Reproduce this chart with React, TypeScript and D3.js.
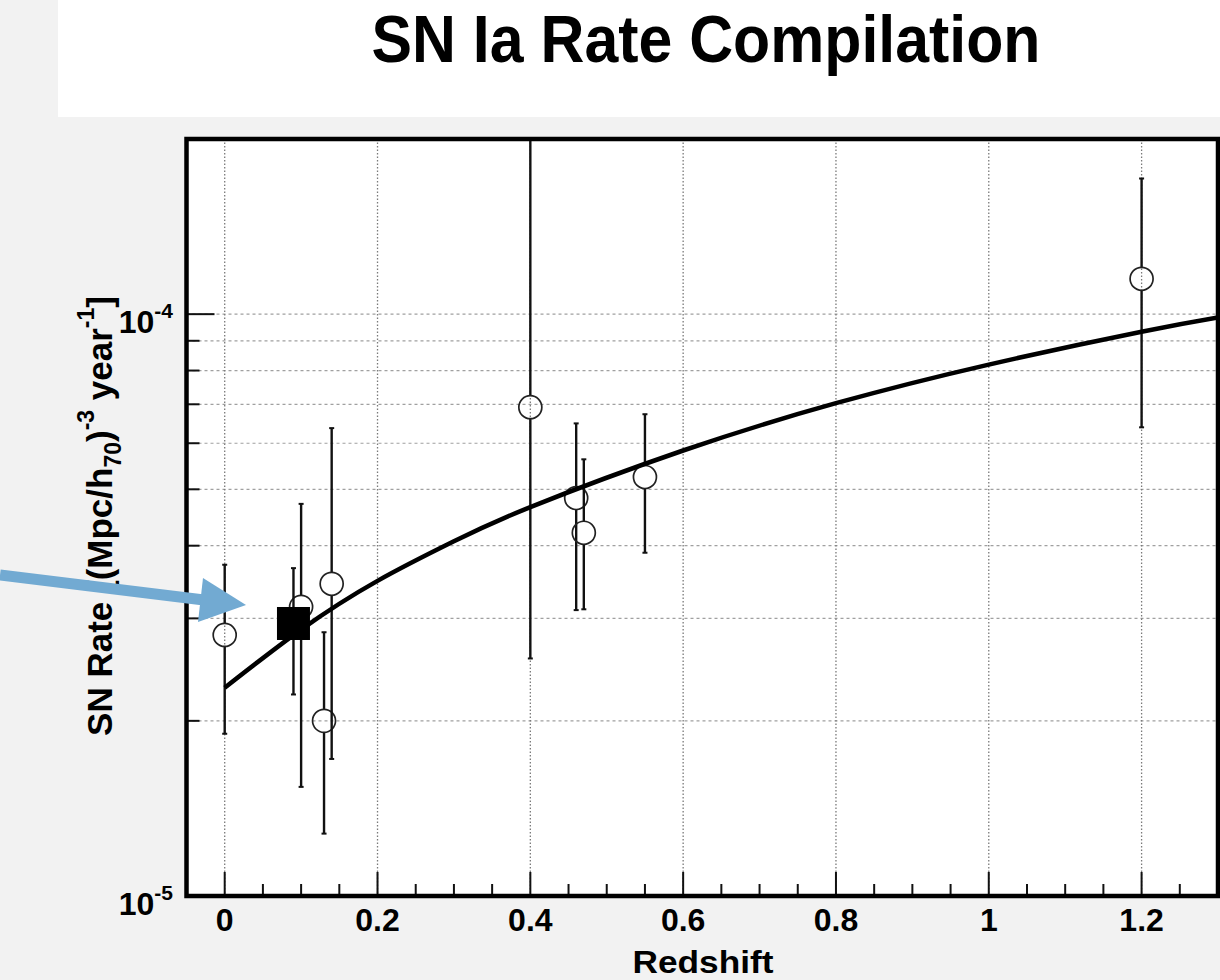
import React from 'react';
import * as d3 from 'd3';

const W = 1220;
const H = 980;

// Data points (open circles) – redshift, rate, upper and lower error ends
const pointZ = [0, 0.1, 0.13, 0.14, 0.4, 0.46, 0.47, 0.55, 1.2];
const pointRate = [2.81e-5, 3.14e-5, 2.0e-5, 3.44e-5, 6.92e-5, 4.83e-5, 4.21e-5, 5.25e-5, 1.15e-4];
const pointHigh = [3.71e-5, 4.72e-5, 2.84e-5, 6.37e-5, 3.0e-4, 6.49e-5, 5.63e-5, 6.73e-5, 1.71e-4];
const pointLow = [1.9e-5, 1.54e-5, 1.28e-5, 1.72e-5, 2.56e-5, 3.1e-5, 3.11e-5, 3.89e-5, 6.39e-5];

// Highlighted measurement (filled square)
const squareZ = [0.09];
const squareRate = [2.94e-5];
const squareHigh = [3.66e-5];
const squareLow = [2.22e-5];

// Model curve
const curveZ = [0, 0.1, 0.2, 0.3, 0.4, 0.6, 0.8, 1.0, 1.2, 1.3];
const curveRate = [2.28e-5, 2.87e-5, 3.48e-5, 4.07e-5, 4.66e-5, 5.83e-5, 7.03e-5, 8.19e-5, 9.33e-5, 9.87e-5];

// Axes
const xDomain = [-0.05, 1.3];
const yDomain = [1e-5, 2e-4];
const xMajorTicks = [0, 0.2, 0.4, 0.6, 0.8, 1.0, 1.2];
const xTickLabels = ['0', '0.2', '0.4', '0.6', '0.8', '1', '1.2'];
const xMinorTicks = [0.05, 0.1, 0.15, 0.25, 0.3, 0.35, 0.45, 0.5, 0.55, 0.65, 0.7, 0.75, 0.85, 0.9, 0.95, 1.05, 1.1, 1.15, 1.25];
const yMajorTicks = [1e-5, 1e-4];
const yMajorExp = ['-5', '-4'];
const yMinorTicks = [2e-5, 3e-5, 4e-5, 5e-5, 6e-5, 7e-5, 8e-5, 9e-5, 2e-4];
const yGridValues = [2e-5, 3e-5, 4e-5, 5e-5, 6e-5, 7e-5, 8e-5, 9e-5, 1e-4];

const titleText = 'SN Ia Rate Compilation';
const xLabel = 'Redshift';

const FONT = '"Liberation Sans", Arial, Helvetica, sans-serif';

const plot = { left: 186.5, right: 1218, top: 139, bottom: 896 };

export default function App() {
  const x = d3.scaleLinear().domain(xDomain).range([plot.left, plot.right]);
  const y = d3.scaleLog().domain(yDomain).range([plot.bottom, plot.top]);

  const line = d3
    .line<number>()
    .x((_, i) => x(curveZ[i]))
    .y((d) => y(d))
    .curve(d3.curveNatural);

  const r = 11.5;
  const cap = 2.5;

  return (
    <svg
      width={W}
      height={H}
      style={{ position: 'absolute', left: 0, top: 0, display: 'block' }}
      fontFamily={FONT}
    >
      <defs>
        <clipPath id="plotClip">
          <rect x={plot.left} y={plot.top} width={plot.right - plot.left} height={plot.bottom - plot.top} />
        </clipPath>
      </defs>
      <rect x={0} y={0} width={W} height={H} fill="#f2f2f2" />
      {/* title pad */}
      <rect x={58} y={0} width={W - 58} height={117} fill="#ffffff" />
      <text
        x={706}
        y={62}
        textAnchor="middle"
        fontSize={66}
        fontWeight="bold"
        textLength={669}
        lengthAdjust="spacingAndGlyphs"
        fill="#000"
      >
        {titleText}
      </text>

      {/* plot area */}
      <rect x={plot.left} y={plot.top} width={plot.right - plot.left} height={plot.bottom - plot.top} fill="#fff" />

      {/* grid */}
      <g clipPath="url(#plotClip)">
        {yGridValues.map((v, i) => (
          <line
            key={'hg' + i}
            x1={plot.left}
            x2={plot.right}
            y1={y(v)}
            y2={y(v)}
            stroke="#a0a0a0"
            strokeWidth={1.2}
            strokeDasharray="3,3"
          />
        ))}
        {xMajorTicks.map((v, i) => (
          <line
            key={'vg' + i}
            x1={x(v)}
            x2={x(v)}
            y1={plot.top}
            y2={plot.bottom}
            stroke="#7a7a7a"
            strokeWidth={1.3}
            strokeDasharray="1.5,2"
          />
        ))}
      </g>

      {/* ticks */}
      <g stroke="#111" strokeWidth={2}>
        {xMajorTicks.map((v, i) => (
          <line key={'xt' + i} x1={x(v)} x2={x(v)} y1={plot.bottom} y2={plot.bottom - 24} />
        ))}
        {xMinorTicks.map((v, i) => (
          <line key={'xm' + i} x1={x(v)} x2={x(v)} y1={plot.bottom} y2={plot.bottom - 12} />
        ))}
        {yMajorTicks.map((v, i) => (
          <line key={'yt' + i} x1={plot.left} x2={plot.left + 28} y1={y(v)} y2={y(v)} />
        ))}
        {yMinorTicks.map((v, i) => (
          <line key={'ym' + i} x1={plot.left} x2={plot.left + 13} y1={y(v)} y2={y(v)} />
        ))}
      </g>

      {/* error bars and markers */}
      <g clipPath="url(#plotClip)">
        {pointZ.map((z, i) => {
          const cx = x(z);
          const cy = y(pointRate[i]);
          const yh = y(pointHigh[i]);
          const yl = y(pointLow[i]);
          return (
            <g key={'p' + i}>
              <line x1={cx} x2={cx} y1={yh} y2={cy - r} stroke="#111" strokeWidth={2.4} />
              <line x1={cx} x2={cx} y1={cy + r} y2={yl} stroke="#111" strokeWidth={2.4} />
              <line x1={cx - cap} x2={cx + cap} y1={yh} y2={yh} stroke="#111" strokeWidth={2} />
              <line x1={cx - cap} x2={cx + cap} y1={yl} y2={yl} stroke="#111" strokeWidth={2} />
              <circle cx={cx} cy={cy} r={r} fill="none" stroke="#222" strokeWidth={1.7} />
            </g>
          );
        })}
        {squareZ.map((z, i) => {
          const cx = x(z);
          const cy = y(squareRate[i]);
          const yh = y(squareHigh[i]);
          const yl = y(squareLow[i]);
          const s = 33;
          return (
            <g key={'s' + i}>
              <line x1={cx} x2={cx} y1={yh} y2={yl} stroke="#111" strokeWidth={2.4} />
              <line x1={cx - cap} x2={cx + cap} y1={yh} y2={yh} stroke="#111" strokeWidth={2} />
              <line x1={cx - cap} x2={cx + cap} y1={yl} y2={yl} stroke="#111" strokeWidth={2} />
              <rect x={cx - s / 2} y={cy - s / 2} width={s} height={s} fill="#000" />
            </g>
          );
        })}
        <path d={line(curveRate) || ''} fill="none" stroke="#000" strokeWidth={4.5} />
      </g>

      {/* frame */}
      <rect
        x={plot.left}
        y={plot.top}
        width={plot.right - plot.left}
        height={plot.bottom - plot.top}
        fill="none"
        stroke="#000"
        strokeWidth={4.5}
      />

      {/* x tick labels */}
      {xMajorTicks.map((v, i) => (
        <text key={'xl' + i} x={x(v)} y={931} textAnchor="middle" fontSize={32} fontWeight="bold" fill="#000">
          {xTickLabels[i]}
        </text>
      ))}
      <text x={703} y={973} textAnchor="middle" fontSize={32} fontWeight="bold" textLength={141} lengthAdjust="spacingAndGlyphs" fill="#000">
        {xLabel}
      </text>

      {/* y tick labels */}
      {yMajorTicks.map((v, i) => (
        <text key={'yl' + i} x={173} y={y(v) + 19} textAnchor="end" fontSize={32} fontWeight="bold" fill="#000">
          10
          <tspan fontSize={21} dy={-15}>
            {yMajorExp[i]}
          </tspan>
        </text>
      ))}

      {/* y axis title */}
      <text transform="translate(112,516) rotate(-90)" textAnchor="middle" fontSize={35} fontWeight="bold" fill="#000">
        SN Rate [(Mpc/h
        <tspan fontSize={23} dy={9}>70</tspan>
        <tspan dy={-9}>)</tspan>
        <tspan fontSize={23} dy={-18}>-3</tspan>
        <tspan dy={18}> year</tspan>
        <tspan fontSize={23} dy={-18}>-1</tspan>
        <tspan dy={18}>]</tspan>
      </text>

      {/* annotation arrow */}
      <g fill="#72aad2" stroke="none">
        <line x1={0} y1={575} x2={204} y2={600} stroke="#72aad2" strokeWidth={11} />
        <polygon points="246,605 203,578 198,622" />
      </g>
    </svg>
  );
}
